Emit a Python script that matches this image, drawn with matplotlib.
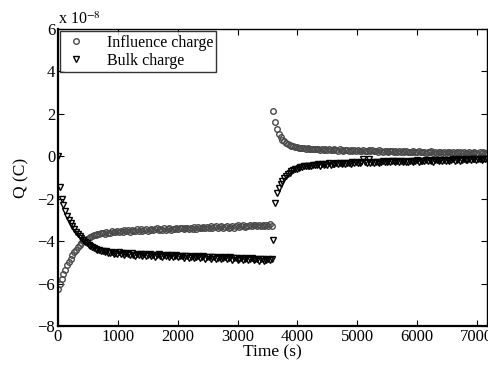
import numpy as np
import matplotlib
matplotlib.use("Agg")
import matplotlib.pyplot as plt

plt.rcParams['font.family'] = ['Liberation Serif', 'DejaVu Serif']
plt.rcParams['mathtext.fontset'] = 'stix'

# time stamps (s), sampled every 30 s, field reversed at 3600 s
t_on = np.arange(0, 3600, 30)
t_off = np.arange(3600, 7200, 30)

# charges in units of 1e-8 C
infl_on = [
    -6.25, -6.00, -5.78, -5.55, -5.35, -5.15, -4.98, -4.82, -4.66, -4.52, -4.40, -4.28,
    -4.18, -4.08, -4.00, -3.94, -3.88, -3.83, -3.79, -3.76, -3.72, -3.70, -3.67, -3.66,
    -3.64, -3.62, -3.66, -3.58, -3.60, -3.63, -3.54, -3.59, -3.55, -3.50, -3.58, -3.52,
    -3.56, -3.48, -3.53, -3.47, -3.55, -3.46, -3.51, -3.53, -3.45, -3.50, -3.44, -3.52,
    -3.47, -3.43, -3.51, -3.46, -3.41, -3.49, -3.44, -3.40, -3.48, -3.43, -3.47, -3.40,
    -3.46, -3.42, -3.38, -3.48, -3.41, -3.45, -3.37, -3.44, -3.40, -3.36, -3.44, -3.39,
    -3.36, -3.43, -3.38, -3.42, -3.34, -3.41, -3.33, -3.40, -3.38, -3.32, -3.40, -3.35,
    -3.38, -3.31, -3.39, -3.34, -3.30, -3.38, -3.33, -3.29, -3.37, -3.32, -3.28, -3.36,
    -3.32, -3.27, -3.36, -3.30, -3.26, -3.34, -3.29, -3.25, -3.33, -3.28, -3.31, -3.24,
    -3.30, -3.26, -3.23, -3.31, -3.26, -3.29, -3.22, -3.28, -3.24, -3.30, -3.21, -3.27,
]
bulk_on = [
    0.00, -1.45, -2.00, -2.32, -2.58, -2.80, -3.00, -3.16, -3.30, -3.43, -3.55, -3.66,
    -3.76, -3.86, -3.95, -4.03, -4.10, -4.17, -4.22, -4.28, -4.32, -4.36, -4.40, -4.42,
    -4.45, -4.47, -4.52, -4.46, -4.55, -4.57, -4.50, -4.60, -4.56, -4.61, -4.53, -4.62,
    -4.57, -4.65, -4.58, -4.63, -4.67, -4.58, -4.64, -4.69, -4.61, -4.67, -4.62, -4.70,
    -4.63, -4.71, -4.66, -4.60, -4.72, -4.64, -4.73, -4.67, -4.62, -4.72, -4.74, -4.65,
    -4.71, -4.67, -4.75, -4.65, -4.76, -4.70, -4.66, -4.77, -4.71, -4.68, -4.78, -4.72,
    -4.69, -4.79, -4.73, -4.70, -4.80, -4.74, -4.71, -4.81, -4.75, -4.72, -4.82, -4.76,
    -4.73, -4.83, -4.77, -4.74, -4.84, -4.78, -4.75, -4.85, -4.79, -4.76, -4.86, -4.80,
    -4.77, -4.87, -4.81, -4.78, -4.88, -4.82, -4.79, -4.89, -4.83, -4.80, -4.90, -4.84,
    -4.81, -4.91, -4.85, -4.82, -4.92, -4.86, -4.83, -4.93, -4.87, -4.84, -4.90, -4.86,
]
infl_off = [
    2.15, 1.62, 1.28, 1.05, 0.90, 0.78, 0.70, 0.63, 0.58, 0.54, 0.50, 0.47,
    0.45, 0.43, 0.41, 0.40, 0.38, 0.39, 0.36, 0.37, 0.35, 0.36, 0.34, 0.35,
    0.33, 0.36, 0.31, 0.35, 0.30, 0.34, 0.29, 0.33, 0.31, 0.28, 0.33, 0.30,
    0.27, 0.32, 0.29, 0.26, 0.31, 0.28, 0.25, 0.30, 0.27, 0.31, 0.25, 0.28,
    0.27, 0.24, 0.29, 0.26, 0.23, 0.28, 0.25, 0.29, 0.23, 0.26, 0.22, 0.28,
    0.25, 0.22, 0.27, 0.24, 0.21, 0.26, 0.23, 0.20, 0.25, 0.22, 0.26, 0.20,
    0.23, 0.20, 0.25, 0.19, 0.22, 0.18, 0.24, 0.21, 0.19, 0.23, 0.18, 0.21,
    0.20, 0.17, 0.22, 0.18, 0.23, 0.17, 0.20, 0.16, 0.22, 0.19, 0.17, 0.21,
    0.17, 0.20, 0.18, 0.15, 0.21, 0.16, 0.20, 0.15, 0.18, 0.14, 0.20, 0.17,
    0.16, 0.19, 0.14, 0.17, 0.20, 0.15, 0.13, 0.18, 0.15, 0.19, 0.16, 0.14,
]
bulk_off = [
    -3.95, -2.20, -1.75, -1.50, -1.30, -1.15, -1.02, -0.92, -0.84, -0.77, -0.71, -0.66,
    -0.62, -0.58, -0.55, -0.52, -0.50, -0.48, -0.46, -0.47, -0.44, -0.45, -0.42, -0.43,
    -0.41, -0.38, -0.44, -0.37, -0.41, -0.36, -0.40, -0.34, -0.39, -0.35, -0.38, -0.33,
    -0.37, -0.32, -0.36, -0.30, -0.35, -0.31, -0.34, -0.36, -0.29, -0.33, -0.28, -0.32,
    -0.34, -0.29, -0.12, -0.27, -0.32, -0.12, -0.30, -0.26, -0.31, -0.27, -0.25, -0.30,
    -0.28, -0.24, -0.29, -0.25, -0.23, -0.28, -0.24, -0.22, -0.27, -0.23, -0.28, -0.22,
    -0.26, -0.21, -0.25, -0.27, -0.20, -0.24, -0.26, -0.21, -0.19, -0.25, -0.20, -0.24,
    -0.23, -0.19, -0.24, -0.18, -0.22, -0.25, -0.19, -0.17, -0.23, -0.18, -0.22, -0.17,
    -0.21, -0.16, -0.22, -0.18, -0.15, -0.21, -0.17, -0.14, -0.20, -0.16, -0.13, -0.19,
    -0.17, -0.13, -0.19, -0.14, -0.12, -0.18, -0.13, -0.11, -0.17, -0.12, -0.15, -0.11,
]

t = np.concatenate([t_on, t_off])
infl = np.concatenate([infl_on, infl_off])
bulk = np.concatenate([bulk_on, bulk_off])

fig = plt.figure(figsize=(4.89, 3.65), dpi=100)
ax = fig.add_axes([0.1186, 0.107, 0.8774, 0.8135])

ax.plot(t, infl, 'o', ms=4.0, mfc='none', mec='#4a4a4a', mew=1.0, label='Influence charge')
ax.plot(t, bulk, 'v', ms=4.4, mfc='none', mec='#000000', mew=1.0, label='Bulk charge')

ax.set_xlim(0, 7170)
ax.set_ylim(-8, 6)
ax.set_xticks(range(0, 8000, 1000))
ax.set_yticks(range(-8, 7, 2))
ax.tick_params(direction='in', top=True, right=True, labelsize=12, length=4, width=0.8, pad=2)
for s in ['left', 'bottom']:
    ax.spines[s].set_linewidth(1.6)
for s in ['top', 'right']:
    ax.spines[s].set_linewidth(1.0)

ax.set_xlabel('Time (s)', fontsize=12.5, labelpad=0)
ax.set_ylabel('Q (C)', fontsize=12.5, labelpad=6)
ax.text(0.0, 1.003, r'x 10$^{-8}$', transform=ax.transAxes, fontsize=11.5, va='bottom', ha='left')

leg = ax.legend(loc='upper left', fontsize=11.5, frameon=True, fancybox=False,
                edgecolor='black', borderaxespad=0.15, handlelength=1.5,
                handletextpad=1.2, borderpad=0.2, labelspacing=0.15)
leg.get_frame().set_linewidth(1.0)

fig.savefig('out.png', dpi=100)
